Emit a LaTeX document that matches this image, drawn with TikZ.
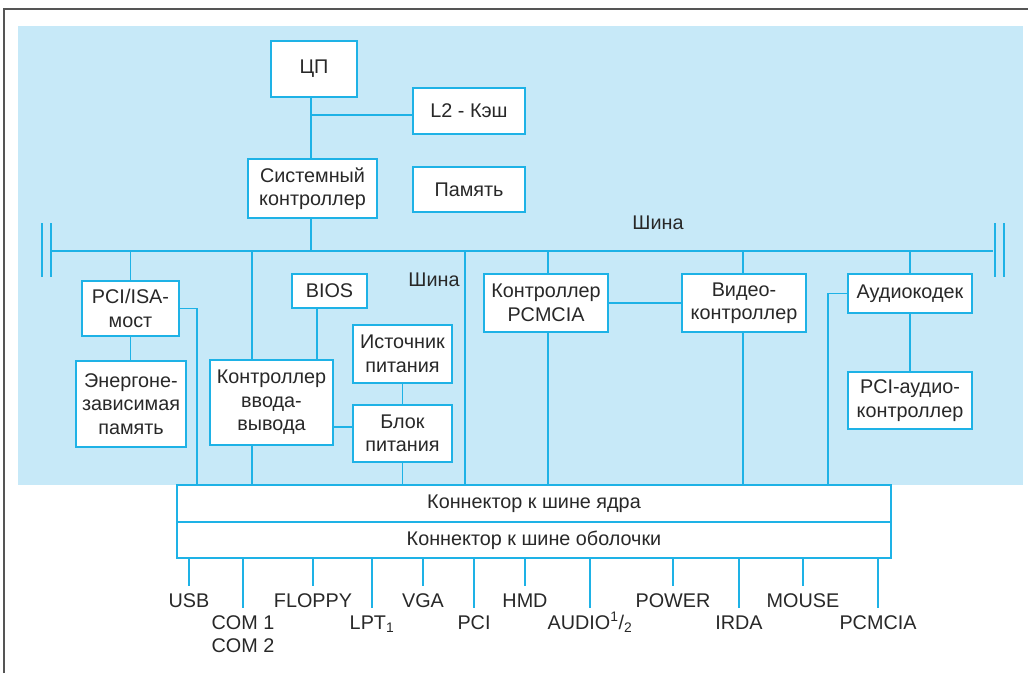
\documentclass[tikz,border=0pt]{standalone}
\usepackage{fontspec}
\setmainfont{Liberation Sans}
\definecolor{bgblue}{RGB}{199,233,248}
\definecolor{cy}{RGB}{30,178,230}
\definecolor{txt}{RGB}{40,40,40}
\definecolor{frame}{RGB}{85,85,85}
\begin{document}
\begin{tikzpicture}[x=1pt,y=-1pt,
  every node/.style={font=\fontsize{19.8}{23.5}\selectfont, text=txt},
  box/.style={draw=cy, line width=1.7pt, fill=white, align=center, inner sep=0pt, outer sep=0pt},
  ln/.style={draw=cy, line width=1.7pt},
  lab/.style={anchor=north, inner xsep=0pt, inner ysep=7pt, text height=14pt, text depth=0pt, outer sep=0pt},
  wd/.style={minimum width=#1}, ht/.style={minimum height=#1}]
\useasboundingbox (0,0) rectangle (1028,673);
\fill[bgblue] (18,26) rectangle (1023,485);
\draw[frame, line width=1.5pt] (4,673) -- (4,9) -- (1028,9);

% helper coordinates
\coordinate (j1) at (311,115);
\coordinate (busL) at (51,251);
\coordinate (busR) at (993,251);
\coordinate (x197) at (197,0);
\coordinate (x252) at (252,0);
\coordinate (x317) at (317,0);
\coordinate (x465) at (465,0);
\coordinate (x548) at (548,0);
\coordinate (x743) at (743,0);
\coordinate (x828) at (828,0);
\coordinate (y427) at (0,427);

% boxes
\node[box, wd=86pt, ht=56pt] (cpu) at (314,69) {ЦП};
\node[box, wd=112pt, ht=46pt] (l2) at (469,111) {L2 - Кэш};
\node[box, wd=129pt, ht=59pt] (sys) at (312.5,188.5) {Системный\\контроллер};
\node[box, wd=112pt, ht=45pt] (mem) at (469,189.5) {Память};
\node[box, wd=97pt, ht=55pt] (pciisa) at (130.5,308.5) {PCI/ISA-\\мост};
\node[box, wd=110pt, ht=86pt] (nvmem) at (131,404) {Энергоне-\\зависимая\\память};
\node[box, wd=75pt, ht=34pt] (bios) at (329.5,291) {BIOS};
\node[box, wd=123pt, ht=85pt] (io) at (271.5,402.5) {Контроллер\\ввода-\\вывода};
\node[box, wd=99pt, ht=58pt] (psrc) at (402.5,354) {Источник\\питания};
\node[box, wd=99pt, ht=57pt] (blk) at (402.5,433.5) {Блок\\питания};
\node[box, wd=124pt, ht=58pt] (pcmcia) at (546,303) {Контроллер\\PCMCIA};
\node[box, wd=124pt, ht=58pt] (video) at (744,303) {Видео-\\контроллер};
\node[box, wd=124pt, ht=39pt] (audio) at (910,293.5) {Аудиокодек};
\node[box, wd=124pt, ht=57pt] (pciaudio) at (910,400.5) {PCI-аудио-\\контроллер};
\node[box, wd=714pt, ht=37pt] (core) at (534,503.5) {Коннектор к шине ядра};
\node[box, wd=714pt, ht=36pt] (shell) at (534,540) {Коннектор к шине оболочки};

% bus labels
\node (shina1) at (658,223) {Шина};
\node (shina2) at (434,280) {Шина};

% bus and end bars
\draw[ln] (busL) -- (busR);
\draw[ln] (42,223) -- (42,277);
\draw[ln] (51,223) -- (51,277);
\draw[ln] (995,223) -- (995,277);
\draw[ln] (1004,223) -- (1004,277);

% upper connections
\draw[ln] (j1 |- cpu.south) -- (j1 |- sys.north);
\draw[ln] (j1) -- (j1 -| l2.west);
\draw[ln] (j1 |- sys.south) -- (j1 |- busL);

% left group
\draw[ln] (pciisa.north |- busL) -- (pciisa.north);
\draw[ln] (pciisa.south) -- (pciisa.south |- nvmem.north);
\draw[ln] (pciisa.east) -| (x197 |- core.north);
\draw[ln] (x252 |- busL) -- (x252 |- io.north);
\draw[ln] (x252 |- io.south) -- (x252 |- core.north);
\draw[ln] (x317 |- bios.south) -- (x317 |- io.north);
\draw[ln] (psrc.south) -- (blk.north);
\draw[ln] (io.east |- y427) -- (blk.west |- y427);
\draw[ln] (blk.south) -- (blk.south |- core.north);
\draw[ln] (x465 |- busL) -- (x465 |- core.north);

% right group
\draw[ln] (x548 |- busL) -- (x548 |- pcmcia.north);
\draw[ln] (x548 |- pcmcia.south) -- (x548 |- core.north);
\draw[ln] (x743 |- busL) -- (x743 |- video.north);
\draw[ln] (x743 |- video.south) -- (x743 |- core.north);
\draw[ln] (pcmcia.east) -- (video.west);
\draw[ln] (audio.north |- busL) -- (audio.north);
\draw[ln] (audio.south) -- (pciaudio.north);
\draw[ln] (audio.west) -| (x828 |- core.north);

% bottom labels
\node[lab] (usb) at (189,586) {USB};
\node[lab, align=left, text height=37.5pt] (com) at (243,608) {COM 1\\COM 2};
\node[lab] (floppy) at (313,586) {FLOPPY};
\node[lab] (lpt) at (372,608) {LPT\textsubscript{1}};
\node[lab] (vga) at (423,586) {VGA};
\node[lab] (pci) at (474,608) {PCI};
\node[lab] (hmd) at (525,586) {HMD};
\node[lab] (aud) at (590,608) {AUDIO\textsuperscript{1}/\textsubscript{2}};
\node[lab] (power) at (673,586) {POWER};
\node[lab] (irda) at (739,608) {IRDA};
\node[lab] (mouse) at (803,586) {MOUSE};
\node[lab] (pcm) at (878,608) {PCMCIA};

\foreach \n in {usb,com,floppy,lpt,vga,pci,hmd,aud,power,irda,mouse,pcm}
  \draw[ln] (\n.north |- shell.south) -- (\n.north);
\end{tikzpicture}
\end{document}
